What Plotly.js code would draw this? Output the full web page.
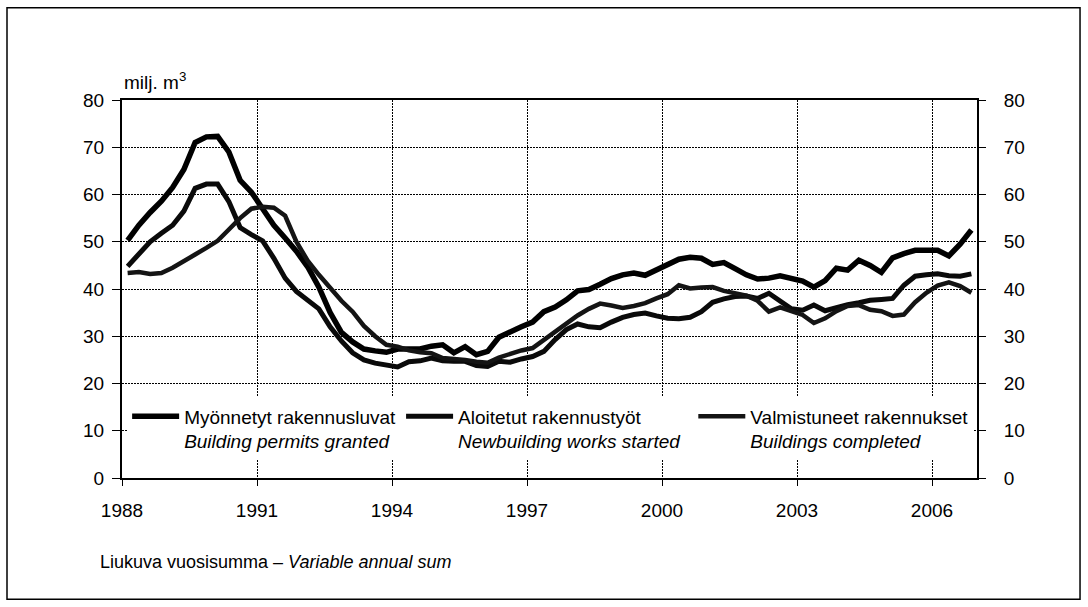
<!DOCTYPE html>
<html>
<head>
<meta charset="utf-8">
<script src="https://cdn.plot.ly/plotly-3.0.1.min.js"></script>
<style>
  html, body { margin: 0; padding: 0; background: #fff; }
  #chart { width: 1088px; height: 607px; }
</style>
</head>
<body>
<div id="chart"></div>
<script>
// Quarterly data 1988Q1 .. 2006Q4, each point placed in the middle of its quarter
const years = [1988, 1989, 1990, 1991, 1992, 1993, 1994, 1995, 1996, 1997,
	1998, 1999, 2000, 2001, 2002, 2003, 2004, 2005, 2006];
const quarterMid = [0.125, 0.375, 0.625, 0.875];
const quarters = years.flatMap(y => quarterMid.map(q => y + q));

// milj. m3, moving annual sum (one row per year)
const permits = [
	50.3, 53.5, 56.2, 58.6,
	61.5, 65.3, 71.0, 72.2,
	72.3, 69.0, 63.0, 60.5,
	57.0, 53.5, 50.8, 48.0,
	44.7, 40.4, 35.0, 30.8,
	28.8, 27.3, 26.9, 26.6,
	27.3, 27.2, 27.3, 27.9,
	28.2, 26.5, 27.8, 26.1,
	26.8, 29.8, 31.0, 32.0,
	33.0, 35.2, 36.2, 37.7,
	39.6, 39.9, 41.0, 42.2,
	43.0, 43.4, 42.9, 44.0,
	45.2, 46.3, 46.7, 46.5,
	45.2, 45.6, 44.3, 43.0,
	42.1, 42.3, 42.8, 42.2,
	41.7, 40.4, 41.8, 44.4,
	44.0, 46.1, 45.0, 43.5,
	46.6, 47.5, 48.2, 48.2,
	48.2, 47.0, 49.5, 52.5
];
const started = [
	44.8, 47.5, 50.0, 51.8,
	53.5, 56.5, 61.3, 62.2,
	62.2, 58.5, 53.0, 51.5,
	50.2, 46.5, 42.3, 39.5,
	37.7, 35.8, 32.0, 29.0,
	26.5, 25.0, 24.3, 23.8,
	23.5, 24.6, 24.8, 25.4,
	24.8, 24.7, 24.7, 23.8,
	23.6, 24.7, 24.5, 25.2,
	25.7, 26.8, 29.3, 31.4,
	32.6, 32.0, 31.8, 33.0,
	34.0, 34.6, 34.9, 34.3,
	33.8, 33.7, 34.0, 35.2,
	37.2, 37.9, 38.4, 38.5,
	38.0, 39.1, 37.5, 35.8,
	35.5, 36.6, 35.4, 36.1,
	36.7, 37.1, 37.6, 37.8,
	38.0, 40.8, 42.7, 43.0,
	43.2, 42.8, 42.7, 43.2
];
const completed = [
	43.4, 43.6, 43.2, 43.4,
	44.5, 45.8, 47.3, 48.7,
	50.2, 52.6, 55.0, 57.0,
	57.4, 57.2, 55.5, 50.0,
	46.0, 43.0, 40.2, 37.5,
	35.2, 32.2, 30.0, 28.2,
	27.8, 27.0, 26.6, 26.4,
	25.4, 25.3, 25.0, 24.6,
	24.4, 25.5, 26.3, 27.0,
	27.5, 29.2, 31.0, 32.8,
	34.4, 35.8, 36.9, 36.5,
	36.0, 36.4, 37.0, 38.0,
	38.9, 40.8, 40.1, 40.3,
	40.4, 39.6, 39.0, 38.6,
	37.5, 35.2, 36.1, 35.2,
	34.5, 32.8, 33.8, 35.3,
	36.4, 36.6, 35.6, 35.3,
	34.3, 34.6, 37.2, 39.2,
	40.7, 41.4, 40.6, 39.2
];

const yearTicks = [1988, 1991, 1994, 1997, 2000, 2003, 2006];
const seriesNames = [
	'Myönnetyt rakennusluvat', 'Aloitetut rakennustyöt', 'Valmistuneet rakennukset'
];
const seriesNamesEn = [
	'Building permits granted', 'Newbuilding works started', 'Buildings completed'
];

const FONT = 'Arial, "Liberation Sans", sans-serif';
const nb = n => '\u00a0'.repeat(n); // pad legend entries to spread them out

const legendName = (i, pad) => `${seriesNames[i]}${nb(pad)}<br><i>${seriesNamesEn[i]}</i>`;

const data = [
	{
		x: quarters, y: permits, name: legendName(0, 0),
		type: 'scatter', mode: 'lines',
		line: { color: '#000', width: 5.5 }
	},
	{
		x: quarters, y: started, name: legendName(1, 9),
		type: 'scatter', mode: 'lines',
		line: { color: '#0a0a0a', width: 5 }
	},
	{
		// same scale as y, carried on the right-hand axis so it gets its labels
		x: quarters, y: completed, name: legendName(2, 0),
		yaxis: 'y2',
		type: 'scatter', mode: 'lines',
		line: { color: '#141414', width: 4.5 }
	},
];

const axisCommon = {
	range: [0, 80],
	dtick: 10,
	ticks: 'outside',
	ticklen: 8,
	tickcolor: '#000',
	tickfont: { family: FONT, size: 19, color: '#000' },
	zeroline: false,
	fixedrange: true,
};

const layout = {
	width: 1088,
	height: 607,
	margin: { l: 122, r: 111, t: 100, b: 129 },
	paper_bgcolor: '#fff',
	plot_bgcolor: '#fff',
	font: { family: FONT, size: 19, color: '#000' },
	showlegend: true,
	legend: {
		orientation: 'h',
		x: 0.006, xanchor: 'left',
		y: 0.213, yanchor: 'top',
		bgcolor: '#fff',
		valign: 'top',
		itemwidth: 47,
		font: { family: FONT, size: 19, color: '#000' },
	},
	xaxis: {
		range: [1988, 2007],
		tickmode: 'array',
		tickvals: yearTicks,
		ticktext: yearTicks.map(String),
		ticks: 'outside',
		ticklen: 6,
		tickcolor: '#000',
		ticklabelstandoff: 8,
		tickfont: { family: FONT, size: 19, color: '#000' },
		showline: true, linecolor: '#000', linewidth: 2, mirror: true,
		showgrid: true, gridcolor: '#000', gridwidth: 1, griddash: '2px,1px',
		zeroline: false,
		fixedrange: true,
	},
	yaxis: Object.assign({}, axisCommon, {
		side: 'left',
		ticklabelstandoff: 4,
		showline: true, linecolor: '#000', linewidth: 2, mirror: true,
		showgrid: true, gridcolor: '#000', gridwidth: 1, griddash: '2px,1px',
	}),
	yaxis2: Object.assign({}, axisCommon, {
		overlaying: 'y',
		side: 'right',
		ticklabelstandoff: 14,
		showline: false,
		showgrid: false,
	}),
	annotations: [
		{
			xref: 'paper', yref: 'paper', x: 0, y: 1.012,
			xanchor: 'left', yanchor: 'bottom',
			text: 'milj. m<sup>3</sup>', showarrow: false,
			font: { family: FONT, size: 19, color: '#000' }
		},
		{
			xref: 'paper', yref: 'paper', x: -0.028, y: -0.222,
			xanchor: 'left', yanchor: 'middle',
			text: 'Liukuva vuosisumma – <i>Variable annual sum</i>', showarrow: false,
			font: { family: FONT, size: 18, color: '#000' }
		}
	],
	shapes: [
		{
			type: 'rect', xref: 'paper', yref: 'paper',
			x0: -0.1345, x1: 1.1205, y0: -0.3206, y1: 1.244,
			line: { color: '#000', width: 1.5 },
			fillcolor: 'rgba(0,0,0,0)',
			layer: 'below'
		}
	]
};

Plotly.newPlot('chart', data, layout, { displayModeBar: false, staticPlot: true });
</script>
</body>
</html>
